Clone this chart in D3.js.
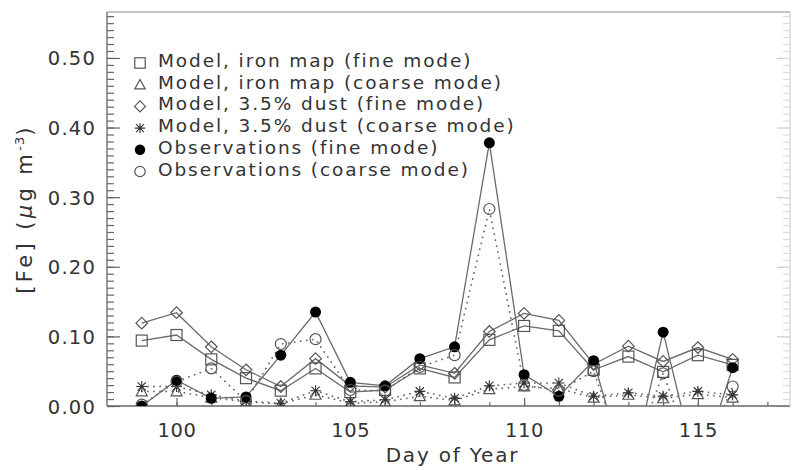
<!DOCTYPE html>
<html>
<head>
<meta charset="utf-8">
<script src="https://cdn.jsdelivr.net/npm/d3@7"></script>
<style>
  html, body { margin: 0; padding: 0; background: #fff; }
  svg { display: block; }
  text { font-family: "DejaVu Sans", sans-serif; fill: #333; }
</style>
</head>
<body>
<svg id="chart" width="794" height="470"></svg>
<script>
// Day of year for each sample
const days = [99, 100, 101, 102, 103, 104, 105, 106, 107, 108, 109, 110, 111, 112, 113, 114, 115, 116];

// Iron concentrations, µg m-3
const ironMapFine   = [0.094, 0.102, 0.067, 0.040, 0.022, 0.054, 0.020, 0.023, 0.054, 0.041, 0.095, 0.115, 0.108, 0.052, 0.071, 0.049, 0.073, 0.059];
const ironMapCoarse = [0.021, 0.021, 0.012, 0.006, 0.003, 0.016, 0.004, 0.006, 0.014, 0.008, 0.024, 0.028, 0.025, 0.012, 0.016, 0.011, 0.017, 0.012];
const dustFine      = [0.119, 0.134, 0.085, 0.052, 0.028, 0.068, 0.029, 0.027, 0.059, 0.047, 0.107, 0.133, 0.123, 0.060, 0.086, 0.064, 0.084, 0.067];
const dustCoarse    = [0.028, 0.028, 0.016, 0.007, 0.004, 0.022, 0.006, 0.009, 0.021, 0.011, 0.029, 0.033, 0.033, 0.014, 0.019, 0.014, 0.021, 0.016];
// Observations: negative entries are flagged samples that fall below the plot floor
const obsFine       = [0.000, 0.037, 0.011, 0.013, 0.073, 0.135, 0.034, 0.029, 0.068, 0.085, 0.378, 0.045, 0.014, 0.065, -0.110, 0.106, -0.098, 0.055];
const obsCoarse     = [0.002, 0.035, 0.054, 0.007, 0.089, 0.096, 0.023, 0.022, 0.056, 0.073, 0.283, 0.030, 0.022, 0.050, -0.090, 0.047, -0.090, 0.028];

const yTickValues = [0.0, 0.1, 0.2, 0.3, 0.4, 0.5];
const xTickValues = [100, 105, 110, 115];

const seriesList = [
  { label: "Model, iron map (fine mode)",   values: ironMapFine,   symbol: "square",   dotted: false },
  { label: "Model, iron map (coarse mode)", values: ironMapCoarse, symbol: "triangle", dotted: true  },
  { label: "Model, 3.5% dust (fine mode)",  values: dustFine,      symbol: "diamond",  dotted: false },
  { label: "Model, 3.5% dust (coarse mode)",values: dustCoarse,    symbol: "asterisk", dotted: true  },
  { label: "Observations (fine mode)",      values: obsFine,       symbol: "dot",      dotted: false },
  { label: "Observations (coarse mode)",    values: obsCoarse,     symbol: "circle",   dotted: true  }
];

const svg = d3.select("#chart");
const plot = { left: 107, right: 790, top: 12, bottom: 406 };

const x = d3.scaleLinear().domain([98, 117.65]).range([plot.left, plot.right]);
const y = d3.scaleLinear().domain([0, 0.566]).range([plot.bottom, plot.top]);

const axisColor = "#666";
const lineColor = "#6a6a6a";

svg.append("defs").append("clipPath").attr("id", "plotClip")
  .append("rect")
  .attr("x", plot.left).attr("y", plot.top)
  .attr("width", plot.right - plot.left).attr("height", plot.bottom - plot.top);

// ---- axes ----
function styleAxis(g) {
  g.select(".domain").remove();
  g.selectAll("line").attr("stroke", axisColor).attr("stroke-width", 1.2);
  g.selectAll("text").style("font-family", "DejaVu Sans, sans-serif").attr("fill", "#333");
}

// left axis, major ticks point into the plot
const yAxis = svg.append("g").attr("transform", `translate(${plot.left},0)`)
  .call(d3.axisLeft(y).tickValues(yTickValues).tickFormat(d3.format(".2f")).tickSize(-13).tickPadding(11));
styleAxis(yAxis);
yAxis.selectAll("text").attr("font-size", 19.5).attr("letter-spacing", 1.2).attr("dy", "0.36em");

const yMinor = svg.append("g").attr("transform", `translate(${plot.left},0)`)
  .call(d3.axisLeft(y).tickValues(d3.range(0, 0.565, 0.01)).tickFormat("").tickSize(-7));
styleAxis(yMinor);

// right axis, ticks only
const yRight = svg.append("g").attr("transform", `translate(${plot.right},0)`)
  .call(d3.axisRight(y).tickValues(yTickValues).tickFormat("").tickSize(-13));
styleAxis(yRight);
yRight.selectAll("line").attr("stroke", "#c8c8c8");
const yRightMinor = svg.append("g").attr("transform", `translate(${plot.right},0)`)
  .call(d3.axisRight(y).tickValues(d3.range(0, 0.565, 0.01)).tickFormat("").tickSize(-7));
styleAxis(yRightMinor);
yRightMinor.selectAll("line").attr("stroke", "#dcdcdc");

// bottom axis
const xAxis = svg.append("g").attr("transform", `translate(0,${plot.bottom})`)
  .call(d3.axisBottom(x).tickValues(xTickValues).tickFormat(d3.format("d")).tickSize(-8));
styleAxis(xAxis);
xAxis.selectAll("text").attr("font-size", 19.5).attr("letter-spacing", 0.6).attr("y", 31).attr("dy", 0);

const xMinor = svg.append("g").attr("transform", `translate(0,${plot.bottom})`)
  .call(d3.axisBottom(x).tickValues(d3.range(99, 118, 1)).tickFormat("").tickSize(-4));
styleAxis(xMinor);

// frame
svg.append("line").attr("x1", plot.left).attr("x2", plot.left).attr("y1", plot.top).attr("y2", plot.bottom)
  .attr("stroke", axisColor).attr("stroke-width", 1.3);
svg.append("line").attr("x1", plot.left).attr("x2", plot.right).attr("y1", plot.bottom).attr("y2", plot.bottom)
  .attr("stroke", axisColor).attr("stroke-width", 1.3);
svg.append("line").attr("x1", plot.left).attr("x2", plot.right).attr("y1", plot.top).attr("y2", plot.top)
  .attr("stroke", "#8a8a8a").attr("stroke-width", 1.2);
svg.append("line").attr("x1", plot.right).attr("x2", plot.right).attr("y1", plot.top).attr("y2", plot.bottom)
  .attr("stroke", "#d0d0d0").attr("stroke-width", 1.2);

// axis titles
svg.append("text")
  .attr("x", (plot.left + plot.right) / 2 + 4).attr("y", 462)
  .attr("text-anchor", "middle").attr("font-size", 20).attr("letter-spacing", 1.8)
  .text("Day of Year");

const yTitle = svg.append("text")
  .attr("transform", `translate(32,${(plot.top + plot.bottom) / 2}) rotate(-90)`)
  .attr("text-anchor", "middle").attr("font-size", 21).attr("letter-spacing", 3.4);
yTitle.append("tspan").text("[Fe] (");
yTitle.append("tspan").style("font-style", "italic").text("μ");
yTitle.append("tspan").text("g m");
yTitle.append("tspan").attr("dy", -8).attr("font-size", 13).attr("letter-spacing", 1).text("-3");
yTitle.append("tspan").attr("dy", 8).text(")");

// ---- symbols ----
function drawSymbol(g, kind, cx, cy, scale) {
  const s = scale || 1;
  const stroke = "#555";
  if (kind === "square") {
    const h = 5.5 * s;
    g.append("rect").attr("x", cx - h).attr("y", cy - h).attr("width", 2 * h).attr("height", 2 * h)
      .attr("fill", "none").attr("stroke", stroke).attr("stroke-width", 1.2);
  } else if (kind === "triangle") {
    const h = 5.5 * s;
    g.append("path").attr("d", `M${cx - h},${cy + h * 0.8}L${cx + h},${cy + h * 0.8}L${cx},${cy - h}Z`)
      .attr("fill", "none").attr("stroke", stroke).attr("stroke-width", 1.2);
  } else if (kind === "diamond") {
    const h = 5.8 * s;
    g.append("path").attr("d", `M${cx},${cy - h}L${cx + h},${cy}L${cx},${cy + h}L${cx - h},${cy}Z`)
      .attr("fill", "none").attr("stroke", stroke).attr("stroke-width", 1.2);
  } else if (kind === "asterisk") {
    const h = 5.5 * s, d = h * 0.75;
    g.append("path")
      .attr("d", `M${cx},${cy - h}L${cx},${cy + h}M${cx - h},${cy}L${cx + h},${cy}` +
                 `M${cx - d},${cy - d}L${cx + d},${cy + d}M${cx - d},${cy + d}L${cx + d},${cy - d}`)
      .attr("fill", "none").attr("stroke", "#333").attr("stroke-width", 1.1);
  } else if (kind === "dot") {
    g.append("circle").attr("cx", cx).attr("cy", cy).attr("r", 5.5 * s).attr("fill", "#000");
  } else if (kind === "circle") {
    g.append("circle").attr("cx", cx).attr("cy", cy).attr("r", 5.5 * s)
      .attr("fill", "none").attr("stroke", stroke).attr("stroke-width", 1.2);
  }
}

// ---- series ----
const dataLayer = svg.append("g").attr("clip-path", "url(#plotClip)");
const line = d3.line().x(d => x(d.day)).y(d => y(d.value));

seriesList.forEach(s => {
  const pts = days.map((day, i) => ({ day, value: s.values[i] }));
  dataLayer.append("path")
    .datum(pts)
    .attr("d", line)
    .attr("fill", "none")
    .attr("stroke", lineColor)
    .attr("stroke-width", s.dotted ? 1.8 : 1.3)
    .attr("stroke-linecap", s.dotted ? "round" : "butt")
    .attr("stroke-dasharray", s.dotted ? "0.1,6" : null);
});
seriesList.forEach(s => {
  const g = dataLayer.append("g");
  days.forEach((day, i) => drawSymbol(g, s.symbol, x(day), y(s.values[i]), 1));
});

// ---- legend ----
const legend = svg.append("g");
seriesList.forEach((s, i) => {
  const baseY = 67 + i * 21.7;
  drawSymbol(legend, s.symbol, 140, baseY - 4, 0.95);
  legend.append("text")
    .attr("x", 158).attr("y", baseY)
    .attr("font-size", 18.5).attr("letter-spacing", 1.9)
    .text(s.label);
});
</script>
</body>
</html>
